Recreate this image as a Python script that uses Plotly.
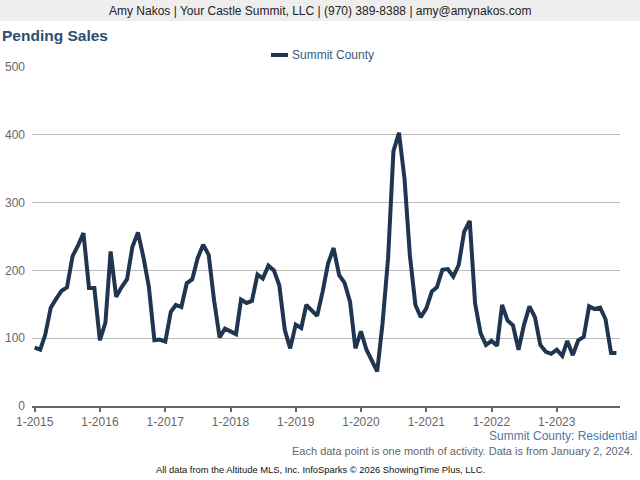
import pandas as pd
import plotly.graph_objects as go

# ---- data ----
months = pd.date_range("2015-01-01", "2023-12-01", freq="MS")
pending_2015 = [86, 83, 105, 145, 158, 170, 175, 221, 237, 255, 174, 174]
pending_2016 = [97, 123, 228, 161, 175, 187, 235, 256, 219, 176, 97, 98]
pending_2017 = [95, 139, 149, 146, 181, 187, 218, 238, 223, 156, 101, 114]
pending_2018 = [110, 106, 157, 152, 155, 194, 188, 207, 200, 178, 112, 85]
pending_2019 = [120, 115, 149, 140, 133, 169, 210, 233, 193, 182, 154, 85]
pending_2020 = [110, 83, 68, 51, 122, 218, 376, 403, 335, 222, 149, 131]
pending_2021 = [144, 169, 175, 201, 202, 191, 208, 257, 273, 151, 107, 90]
pending_2022 = [96, 89, 149, 126, 119, 83, 119, 147, 131, 90, 80, 77]
pending_2023 = [83, 74, 96, 75, 97, 102, 147, 143, 145, 128, 78, 78]
pending = (pending_2015 + pending_2016 + pending_2017 + pending_2018 + pending_2019
           + pending_2020 + pending_2021 + pending_2022 + pending_2023)

tick_dates = ["2015-01-01", "2016-01-01", "2017-01-01", "2018-01-01", "2019-01-01",
              "2020-01-01", "2021-01-01", "2022-01-01", "2023-01-01"]
tick_labels = ["1-2015", "1-2016", "1-2017", "1-2018", "1-2019",
               "1-2020", "1-2021", "1-2022", "1-2023"]
y_ticks = [0, 100, 200, 300, 400, 500]

series_name = "Summit County"

# ---- layout geometry (pixels) ----
W, H = 640, 480
L, R, T, B = 32, 20, 67, 74
PW, PH = W - L - R, H - T - B


def px(x):
    return (x - L) / PW


def py(y):
    return (H - B - y) / PH


LINE_COLOR = "#1f3550"

fig = go.Figure()
fig.add_trace(go.Scatter(
    x=months, y=pending, mode="lines", name=series_name,
    line=dict(color=LINE_COLOR, width=4), showlegend=False,
))

fig.update_layout(
    width=W, height=H,
    margin=dict(l=L, r=R, t=T, b=B, autoexpand=False),
    paper_bgcolor="white", plot_bgcolor="white",
    font=dict(family="Arial, Liberation Sans, sans-serif", size=12, color="#666"),
    xaxis=dict(
        type="date", range=["2014-12-17", "2023-12-21"],
        tickvals=tick_dates, ticktext=tick_labels,
        showgrid=False, zeroline=False, automargin=False,
        showline=True, linecolor="#666", linewidth=2,
        ticks="outside", ticklen=4, tickwidth=2, tickcolor="#666",
        tickfont=dict(size=12, color="#666"),
    ),
    yaxis=dict(
        range=[0, 500], tickvals=y_ticks, automargin=False,
        showgrid=True, gridcolor="#bbbbbb", gridwidth=1,
        zeroline=False, showline=False, ticks="",
        ticklabelstandoff=6,
        tickfont=dict(size=12, color="#666"),
    ),
)

shapes = [
    # header band
    dict(type="rect", xref="paper", yref="paper", x0=px(0), x1=px(W), y0=py(21), y1=py(0),
         fillcolor="#eeeeee", line=dict(width=0), layer="below"),
    # legend swatch
    dict(type="line", xref="paper", yref="paper", x0=px(271), x1=px(288), y0=py(55), y1=py(55),
         line=dict(color=LINE_COLOR, width=4)),
]
fig.update_layout(shapes=shapes)

ann = [
    dict(text="Amy Nakos | Your Castle Summit, LLC | (970) 389-8388 | amy@amynakos.com",
         x=px(320), y=py(11), xanchor="center", yanchor="middle",
         font=dict(size=12, color="#222")),
    dict(text="<b>Pending Sales</b>", x=px(0), y=py(35), xanchor="left", yanchor="middle",
         font=dict(size=15.5, color="#2e4d72")),
    dict(text=series_name, x=px(290), y=py(55), xanchor="left", yanchor="middle",
         font=dict(size=12, color="#3a5a80")),
    dict(text="Summit County: Residential", x=px(639), y=py(436), xanchor="right", yanchor="middle",
         font=dict(size=12, color="#4d77a8")),
    dict(text="Each data point is one month of activity. Data is from January 2, 2024.",
         x=px(635), y=py(451), xanchor="right", yanchor="middle",
         font=dict(size=11, color="#666")),
    dict(text="All data from the Altitude MLS, Inc. InfoSparks © 2026 ShowingTime Plus, LLC.",
         x=px(320), y=py(469), xanchor="center", yanchor="middle",
         font=dict(size=9.4, color="#111")),
]
for a in ann:
    a.update(xref="paper", yref="paper", showarrow=False)
fig.update_layout(annotations=ann)

fig.write_html(
    "out.html",
    config={"displayModeBar": False},
    post_script="document.body.style.margin='0';document.body.style.overflow='hidden';",
)
